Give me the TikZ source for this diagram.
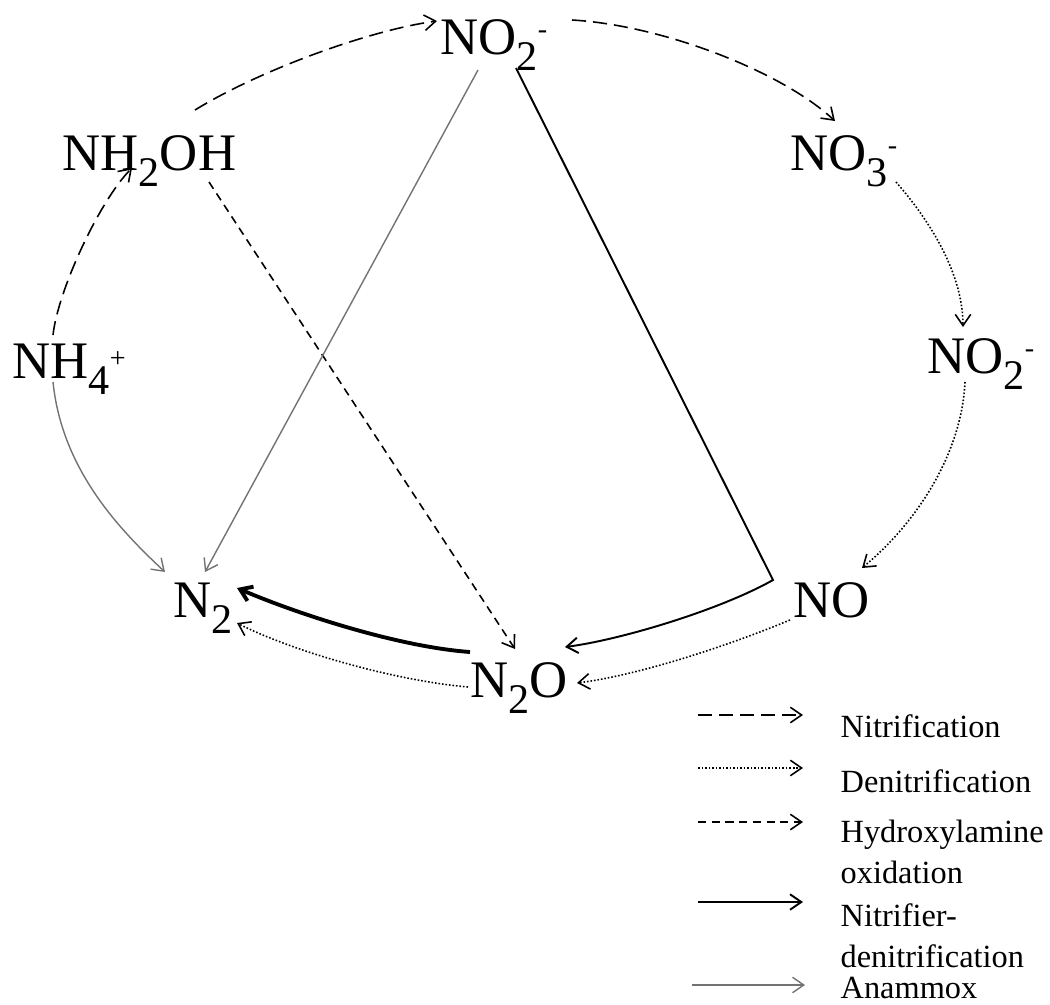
\documentclass[tikz,border=0pt]{standalone}
\usepackage{fontspec}
\setmainfont{Liberation Serif}
\usetikzlibrary{arrows.meta,calc}
\newcommand{\sbs}[1]{\raisebox{-4.6pt}{\fontsize{12}{12}\selectfont #1}}
\newcommand{\sps}[2][4.5pt]{\raisebox{#1}{\fontsize{8}{8}\selectfont #2}}

\begin{document}
\begin{tikzpicture}[
  x=0.01cm, y=-0.01cm,
  chem/.style={anchor=base west, inner sep=0pt, font=\fontsize{15}{18}\selectfont},
  leg/.style={anchor=base west, inner sep=0pt, align=left, font=\fontsize{9.2}{11.4}\selectfont},
  tip/.style={-{Straight Barb[length=3.2pt,width=4.4pt]}},
  nitr/.style={tip, line width=0.45pt, dash pattern=on 4pt off 2pt},
  denit/.style={tip, line width=0.45pt, dash pattern=on 0.45pt off 0.55pt},
  hydrox/.style={tip, line width=0.45pt, dash pattern=on 2.3pt off 1.6pt},
  ndenit/.style={tip, line width=0.55pt},
  anam/.style={tip, line width=0.4pt, black!55}
]
\useasboundingbox (0,0) rectangle (1050,1005);
% Species
\node[chem] (no2a) at (440,54) {NO\sbs{2}\sps{-}};
\node[chem] (nhoh) at (62,170) {NH\sbs{2}OH};
\node[chem] (no3) at (790,170) {NO\sbs{3}\sps{-}};
\node[chem] (nh4) at (12,378) {NH\sbs{4}\sps[3pt]{+}};
\node[chem] (no2b) at (927,373) {NO\sbs{2}\sps{-}};
\node[chem] (ntwo) at (173,617) {N\sbs{2}};
\node[chem] (no) at (793,617) {NO};
\node[chem] (ntwoo) at (470,697) {N\sbs{2}O};
% Nitrification
\draw[nitr] ($(nh4.base west)+(41,-43)$) .. controls +(5,-45) and +(-32,32) .. ($(nhoh.base west)+(70,-2)$);
\draw[nitr] ($(nhoh.base west)+(133,-60)$) .. controls +(65,-40) and +(-67,9) .. ($(no2a.base west)+(-3,-33)$);
\draw[nitr] ($(no2a.base west)+(132,-34)$) .. controls +(88,5) and +(-55,-51) .. ($(no3.base west)+(45,-49)$);
% Denitrification
\draw[denit] ($(no3.base west)+(106,12)$) .. controls +(29,33) and +(0,-57) .. ($(no2b.base west)+(36,-46)$);
\draw[denit] ($(no2b.base west)+(38,9)$) .. controls +(-3,68) and +(58,-48) .. ($(no.base west)+(69,-49)$);
\draw[denit] ($(no.base west)+(-3,3)$) .. controls +(-60,25) and +(63,-8) .. ($(ntwoo.base west)+(107,-14)$);
\draw[denit] ($(ntwoo.base west)+(-2,-10)$) .. controls +(-78,-7) and +(53,27) .. ($(ntwo.base west)+(64,6)$);
% Hydroxylamine oxidation
\draw[hydrox] ($(nhoh.base west)+(147,12)$) -- ($(ntwoo.base west)+(45,-48)$);
% Nitrifier-denitrification
\draw[ndenit] ($(no2a.base west)+(76,14)$) -- ($(no.base west)+(-20,-37)$)
  .. controls +(-53,30) and +(55,-7) .. ($(ntwoo.base west)+(95,-50)$);
\draw[ndenit, line width=1.1pt] ($(ntwoo.base west)+(0,-45)$) .. controls +(-70,-5) and +(63,27) .. ($(ntwo.base west)+(64,-29)$);
% Anammox
\draw[anam] ($(no2a.base west)+(38,16)$) -- ($(ntwo.base west)+(32,-45)$);
\draw[anam] ($(nh4.base west)+(41,4)$) .. controls +(9,88) and +(-45,-42) .. ($(ntwo.base west)+(-8,-45)$);
% Legend
\node[leg] (lgnit) at (840,737) {Nitrification};
\node[leg] (lgden) at (840,792) {Denitrification};
\node[leg] (lghyd) at (840,883) {Hydroxylamine\\oxidation};
\node[leg] (lgndn) at (840,967) {Nitrifier-\\denitrification};
\node[leg] (lgana) at (840,998) {Anammox};
\draw[nitr] ($(lgnit.base west)+(-142,-22)$) -- ($(lgnit.base west)+(-37,-22)$);
\draw[denit] ($(lgden.base west)+(-142,-24)$) -- ($(lgden.base west)+(-37,-24)$);
\draw[hydrox] ($(lghyd.base west)+(-142,-61)$) -- ($(lghyd.base west)+(-37,-61)$);
\draw[ndenit] ($(lgndn.base west)+(-142,-65)$) -- ($(lgndn.base west)+(-37,-65)$);
\draw[anam] ($(lgana.base west)+(-148,-13)$) -- ($(lgana.base west)+(-35,-13)$);
\end{tikzpicture}
\end{document}
